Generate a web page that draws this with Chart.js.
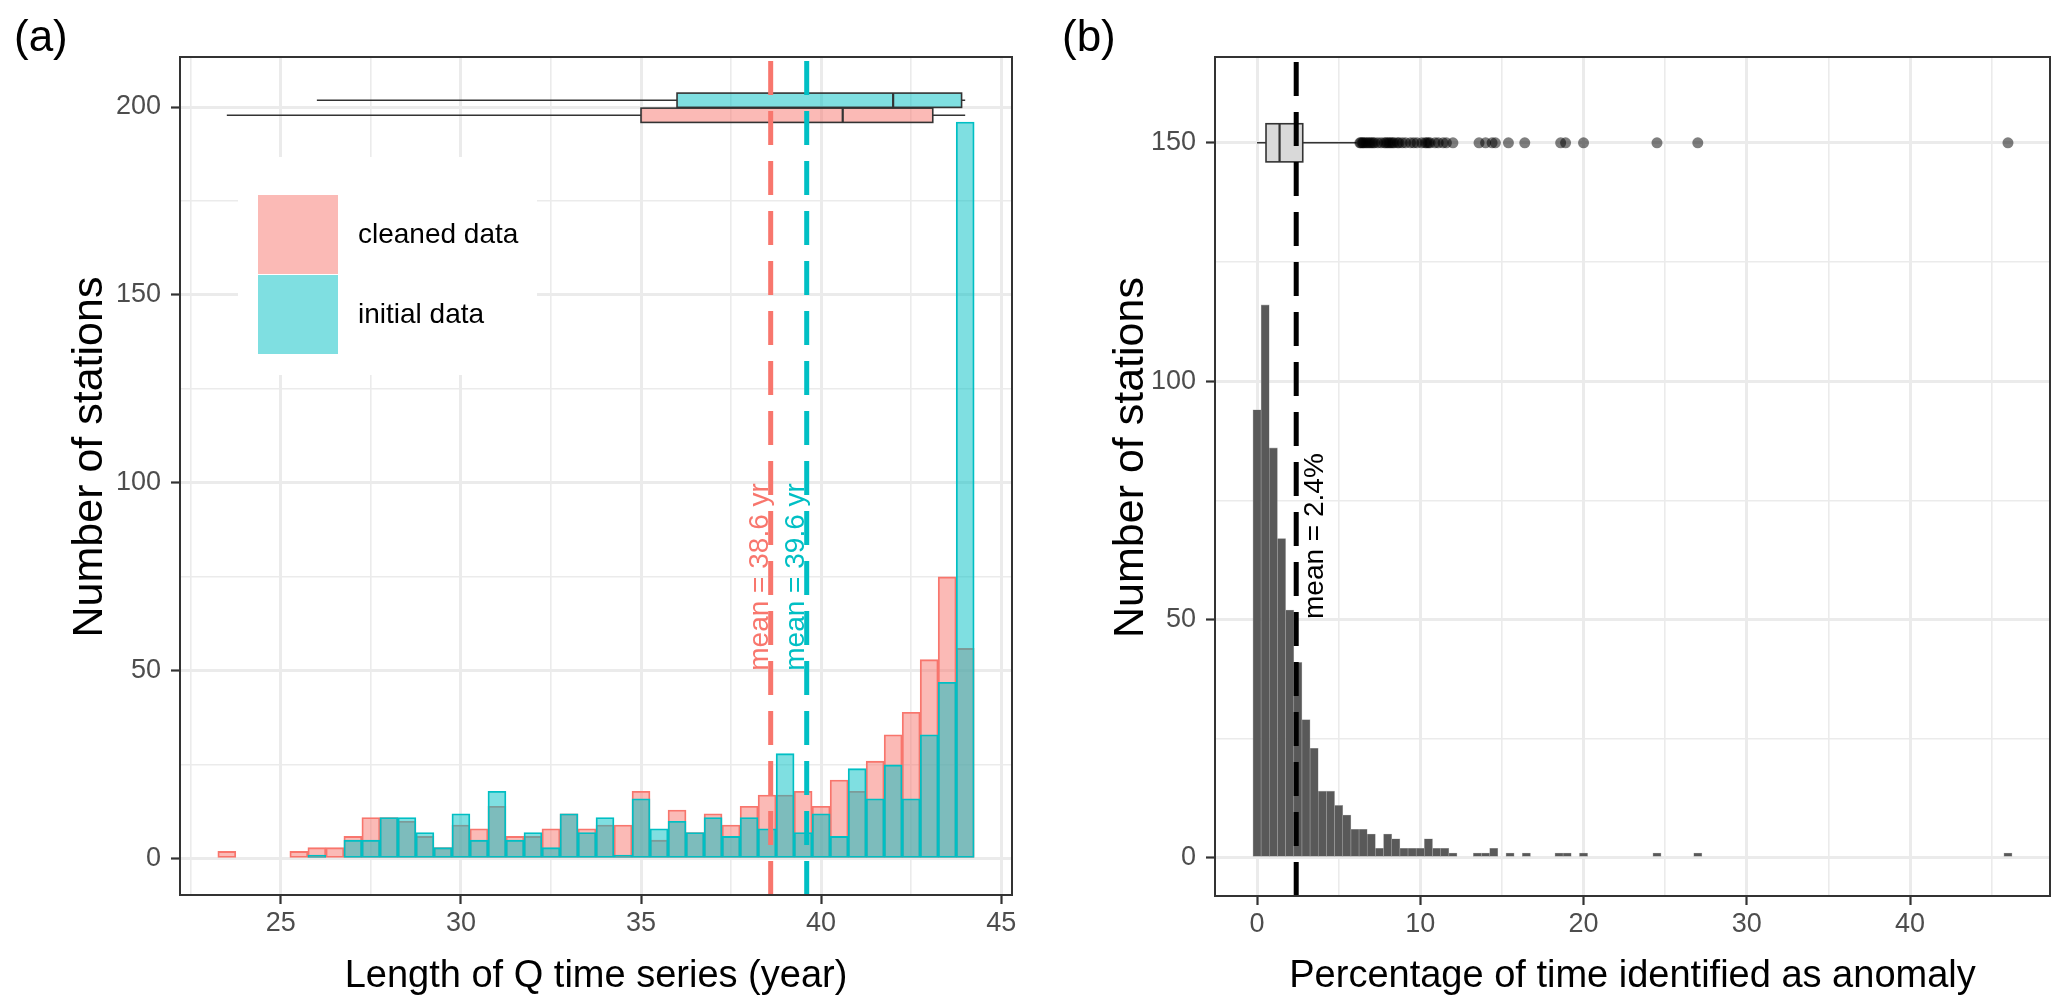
<!DOCTYPE html>
<html>
<head>
<meta charset="utf-8">
<title>Record length and anomaly share per station</title>
<script src="https://cdn.jsdelivr.net/npm/chart.js@4.4.1/dist/chart.umd.min.js"></script>
<style>
  html, body { margin: 0; padding: 0; background: #fff; }
  #page { position: relative; width: 2067px; height: 1002px; overflow: hidden; }
  canvas { position: absolute; top: 0; }
  #chartA { left: 0; }
  #chartB { left: 1034px; }
  .tag { position: absolute; top: 11px; font: 44px 'Liberation Sans', Arial, sans-serif; color: #000; }
</style>
</head>
<body>
<div id="page">
  <canvas id="chartA" width="1034" height="1002"></canvas>
  <canvas id="chartB" width="1033" height="1002"></canvas>
  <div class="tag" style="left:14px">(a)</div>
  <div class="tag" style="left:1062px">(b)</div>
</div>
<script>
const FONT = "'Liberation Sans', Arial, sans-serif";
const RED = '#F8766D';
const CYAN = '#00BFC4';

// ---- panel (a): length of Q series, bins of 0.5 yr ----
const yearBins = [23.5, 24, 24.5, 25, 25.5, 26, 26.5, 27, 27.5, 28, 28.5, 29, 29.5, 30, 30.5, 31, 31.5, 32, 32.5, 33, 33.5,
                  34, 34.5, 35, 35.5, 36, 36.5, 37, 37.5, 38, 38.5, 39, 39.5, 40, 40.5, 41, 41.5, 42, 42.5, 43, 43.5, 44];
const cleanedCounts = [2, 0, 0, 0, 2, 3, 3, 6, 11, 11, 10, 6, 3, 9, 8, 14, 6, 6, 8, 12, 8,
                       9, 9, 18, 5, 13, 7, 12, 9, 14, 17, 17, 18, 14, 21, 18, 26, 33, 39, 53, 75, 56];
const initialCounts = [0, 0, 0, 0, 0, 1, 0, 5, 5, 11, 11, 7, 3, 12, 5, 18, 5, 7, 3, 12, 7,
                       11, 1, 16, 8, 10, 7, 11, 6, 11, 8, 28, 7, 12, 6, 24, 16, 25, 16, 33, 47, 196];
const seriesNames = ['cleaned data', 'initial data'];
// min, q1, median, q3, max
const cleanedBox = [23.5, 35.0, 40.6, 43.1, 44.0];
const initialBox = [26.0, 36.0, 42.0, 43.9, 44.0];
const cleanedMean = 38.6;
const initialMean = 39.6;
const yearMajorTicks = [25, 30, 35, 40, 45];
const yearMinorTicks = [22.5, 27.5, 32.5, 37.5, 42.5];
const countMajorA = [0, 50, 100, 150, 200];
const countMinorA = [25, 75, 125, 175];

// ---- panel (b): percentage of time flagged as anomaly, bins of 0.5 % ----
const anomalyBins = [0, 0.5, 1, 1.5, 2, 2.5, 3, 3.5, 4, 4.5, 5, 5.5, 6, 6.5, 7, 7.5, 8, 8.5, 9, 9.5, 10, 10.5,
                     11, 11.5, 12, 13.5, 14, 14.5, 15.5, 16.5, 18.5, 19, 20, 24.5, 27, 46];
const anomalyCounts = [94, 116, 86, 67, 52, 41, 29, 23, 14, 14, 11, 9, 6, 6, 5, 2, 5, 4, 2, 2, 2, 4,
                       2, 2, 1, 1, 1, 2, 1, 1, 1, 1, 1, 1, 1, 1];
const anomalyBox = [0.0, 0.55, 1.38, 2.8, 6.1];
const anomalyOutliers = [6.3, 6.35, 6.45, 6.5, 6.6, 6.7, 6.8, 6.9, 7.0, 7.1, 7.2, 7.4, 7.6, 7.8, 7.9, 8.0, 8.1,
                         8.2, 8.3, 8.4, 8.6, 8.7, 8.9, 9.1, 9.4, 9.6, 9.8, 10.1, 10.3, 10.4, 10.5, 10.6, 10.9,
                         11.1, 11.4, 11.6, 12.0, 13.6, 14.0, 14.4, 14.6, 15.4, 16.4, 18.6, 18.9, 20.0, 24.5, 27.0, 46.0];
const anomalyMean = 2.4;
const pctMajorTicks = [0, 10, 20, 30, 40];
const pctMinorTicks = [5, 15, 25, 35, 45];
const countMajorB = [0, 50, 100, 150];
const countMinorB = [25, 75, 125];

// axis limits (ggplot expansion) and where the boxplots / labels sit
const X_A = [22.2, 45.3], Y_A = [-9.6, 213.3];
const X_B = [-2.575, 48.575], Y_B = [-8, 168];
const BOX_Y_CLEANED = 197.8, BOX_Y_INITIAL = 201.8, BOX_HALF_A = 1.9;
const BOX_Y_ANOMALY = 150, BOX_HALF_B = 4;
const LABEL_Y_A = 75, LABEL_Y_B = 67.5;

Chart.defaults.font.family = FONT;

function axis(range, major, minor, o) {
  const isMajor = v => major.includes(v);
  const all = major.concat(minor).filter(v => v >= range[0] && v <= range[1]).sort((a, b) => a - b);
  return {
    type: 'linear',
    min: range[0],
    max: range[1],
    offset: false,
    afterBuildTicks: s => { s.ticks = all.map(v => ({ value: v })); },
    afterFit: s => {
      if (s.isHorizontal()) s.height = o.size; else s.width = o.size;
      s.paddingLeft = s.paddingRight = s.paddingTop = s.paddingBottom = 0;
    },
    grid: {
      offset: false,
      color: '#EBEBEB',
      lineWidth: c => (c.tick && isMajor(c.tick.value)) ? 3 : 1.6,
      tickColor: c => (c.tick && isMajor(c.tick.value)) ? '#333333' : 'rgba(0,0,0,0)',
      tickWidth: 2.2,
      tickLength: 9
    },
    border: { display: false },
    ticks: {
      autoSkip: false,
      maxRotation: 0,
      color: '#4D4D4D',
      font: { size: 27 },
      padding: o.tickPad,
      callback: v => isMajor(v) ? String(v) : ''
    },
    title: o.title
      ? { display: true, text: o.title, color: '#000', font: { size: 38 }, padding: { top: 0, bottom: 3 } }
      : { display: false }
  };
}

const framePlugin = {
  id: 'frame',
  afterDraw(chart) {
    const { ctx, chartArea: a } = chart;
    ctx.save();
    ctx.strokeStyle = '#333333';
    ctx.lineWidth = 2;
    ctx.strokeRect(a.left, a.top, a.right - a.left, a.bottom - a.top);
    ctx.restore();
  }
};

// vertical axis title, a bit larger and raised like the original
function sideTitle(text, x, dy) {
  return {
    id: 'sideTitle',
    afterDraw(chart) {
      const { ctx, chartArea: a } = chart;
      ctx.save();
      ctx.font = '43px ' + FONT;
      ctx.fillStyle = '#000';
      ctx.textAlign = 'center';
      ctx.textBaseline = 'middle';
      ctx.translate(x, (a.top + a.bottom) / 2 + dy);
      ctx.rotate(-Math.PI / 2);
      ctx.fillText(text, 0, 0);
      ctx.restore();
    }
  };
}

// horizontal boxplots, placed with the chart's own scales
function boxPlugin(boxes) {
  return {
    id: 'boxes',
    beforeDatasetsDraw(chart) {
      const { ctx, scales: { x, y } } = chart;
      ctx.save();
      boxes.forEach(b => {
        const [lo, q1, med, q3, hi] = b.stats.map(v => x.getPixelForValue(v));
        const yc = y.getPixelForValue(b.y);
        const yt = y.getPixelForValue(b.y + b.half);
        const yb = y.getPixelForValue(b.y - b.half);
        ctx.strokeStyle = '#333333';
        ctx.lineWidth = 1.4;
        ctx.beginPath();
        ctx.moveTo(lo, yc); ctx.lineTo(q1, yc);
        ctx.moveTo(q3, yc); ctx.lineTo(hi, yc);
        ctx.stroke();
        ctx.fillStyle = b.fill;
        ctx.fillRect(q1, yt, q3 - q1, yb - yt);
        ctx.lineWidth = 1.6;
        ctx.strokeRect(q1, yt, q3 - q1, yb - yt);
        ctx.lineWidth = 2.2;
        ctx.beginPath();
        ctx.moveTo(med, yt); ctx.lineTo(med, yb);
        ctx.stroke();
      });
      ctx.restore();
    }
  };
}

// rotated "mean = ..." labels beside the dashed lines
function meanLabelPlugin(labels) {
  return {
    id: 'meanLabels',
    afterDatasetsDraw(chart) {
      const { ctx, scales: { x, y } } = chart;
      ctx.save();
      ctx.font = '28px ' + FONT;
      ctx.textAlign = 'center';
      ctx.textBaseline = 'alphabetic';
      labels.forEach(l => {
        ctx.save();
        ctx.translate(x.getPixelForValue(l.x) + l.shift, y.getPixelForValue(l.y));
        ctx.rotate(-Math.PI / 2);
        ctx.fillStyle = l.color;
        ctx.fillText(l.text, 0, 0);
        ctx.restore();
      });
      ctx.restore();
    }
  };
}

const legendPlugin = {
  id: 'insideLegend',
  afterDatasetsDraw(chart) {
    const { ctx, chartArea: a } = chart;
    const fills = ['rgba(248,118,109,0.5)', 'rgba(0,191,196,0.5)'];
    ctx.save();
    ctx.fillStyle = '#ffffff';
    ctx.fillRect(a.left + 58, a.top + 100, 299, 218);
    ctx.font = '28px ' + FONT;
    ctx.textBaseline = 'middle';
    seriesNames.forEach((name, i) => {
      const top = a.top + 138 + i * 80;
      ctx.fillStyle = fills[i];
      ctx.fillRect(a.left + 78, top, 80, 79);
      ctx.fillStyle = '#000';
      ctx.fillText(name, a.left + 178, top + 40);
    });
    ctx.restore();
  }
};

const toXY = (xs, ys) => xs.map((v, i) => ({ x: v, y: ys[i] }));

new Chart(document.getElementById('chartA'), {
  type: 'bar',
  data: {
    datasets: [
      {
        label: seriesNames[0],
        data: toXY(yearBins, cleanedCounts),
        backgroundColor: 'rgba(248,118,109,0.5)',
        borderColor: RED,
        borderWidth: 1.2,
        borderSkipped: false,
        grouped: false,
        barPercentage: 1,
        categoryPercentage: 1,
        order: 2
      },
      {
        label: seriesNames[1],
        data: toXY(yearBins, initialCounts),
        backgroundColor: 'rgba(0,191,196,0.5)',
        borderColor: CYAN,
        borderWidth: 1.2,
        borderSkipped: false,
        grouped: false,
        barPercentage: 1,
        categoryPercentage: 1,
        order: 1
      },
      {
        type: 'line',
        label: 'mean cleaned',
        data: [{ x: cleanedMean, y: Y_A[0] }, { x: cleanedMean, y: Y_A[1] }],
        borderColor: RED,
        borderWidth: 5,
        borderDash: [34, 16],
        pointRadius: 0,
        order: 0
      },
      {
        type: 'line',
        label: 'mean initial',
        data: [{ x: initialMean, y: Y_A[0] }, { x: initialMean, y: Y_A[1] }],
        borderColor: CYAN,
        borderWidth: 5,
        borderDash: [34, 16],
        pointRadius: 0,
        order: 0
      }
    ]
  },
  options: {
    responsive: false,
    animation: false,
    layout: { padding: { top: 57, right: 22, bottom: 0, left: 0 } },
    plugins: { legend: { display: false }, tooltip: { enabled: false } },
    scales: {
      x: axis(X_A, yearMajorTicks, yearMinorTicks, { size: 107, tickPad: 3, title: 'Length of Q time series (year)' }),
      y: axis(Y_A, countMajorA, countMinorA, { size: 180, tickPad: 10 })
    }
  },
  plugins: [
    framePlugin,
    legendPlugin,
    sideTitle('Number of stations', 90, -19),
    boxPlugin([
      { stats: initialBox, y: BOX_Y_INITIAL, half: BOX_HALF_A, fill: 'rgba(0,191,196,0.5)' },
      { stats: cleanedBox, y: BOX_Y_CLEANED, half: BOX_HALF_A, fill: 'rgba(248,118,109,0.5)' }
    ]),
    meanLabelPlugin([
      { x: cleanedMean, y: LABEL_Y_A, shift: -3, text: 'mean = ' + cleanedMean + ' yr', color: RED },
      { x: initialMean, y: LABEL_Y_A, shift: -3, text: 'mean = ' + initialMean + ' yr', color: CYAN }
    ])
  ]
});

new Chart(document.getElementById('chartB'), {
  type: 'bar',
  data: {
    datasets: [
      {
        label: 'stations',
        data: toXY(anomalyBins, anomalyCounts),
        backgroundColor: '#595959',
        borderColor: 'rgba(150,150,150,0.8)',
        borderWidth: 0.6,
        borderSkipped: false,
        barPercentage: 1,
        categoryPercentage: 1,
        order: 2
      },
      {
        type: 'line',
        label: 'outliers',
        data: anomalyOutliers.map(v => ({ x: v, y: BOX_Y_ANOMALY })),
        showLine: false,
        pointRadius: 5.5,
        pointBackgroundColor: 'rgba(0,0,0,0.5)',
        pointBorderWidth: 0,
        order: 1
      },
      {
        type: 'line',
        label: 'mean',
        data: [{ x: anomalyMean, y: Y_B[0] }, { x: anomalyMean, y: Y_B[1] }],
        borderColor: '#000000',
        borderWidth: 5,
        borderDash: [34, 16],
        pointRadius: 0,
        order: 0
      }
    ]
  },
  options: {
    responsive: false,
    animation: false,
    layout: { padding: { top: 57, right: 17, bottom: 0, left: 0 } },
    plugins: { legend: { display: false }, tooltip: { enabled: false } },
    scales: {
      x: axis(X_B, pctMajorTicks, pctMinorTicks, { size: 106, tickPad: 3, title: 'Percentage of time identified as anomaly' }),
      y: axis(Y_B, countMajorB, countMinorB, { size: 181, tickPad: 10 })
    }
  },
  plugins: [
    framePlugin,
    sideTitle('Number of stations', 97, -19),
    boxPlugin([{ stats: anomalyBox, y: BOX_Y_ANOMALY, half: BOX_HALF_B, fill: '#D9D9D9' }]),
    meanLabelPlugin([{ x: anomalyMean, y: LABEL_Y_B, shift: 27, text: 'mean = ' + anomalyMean + '%', color: '#000' }])
  ]
});
</script>
</body>
</html>
